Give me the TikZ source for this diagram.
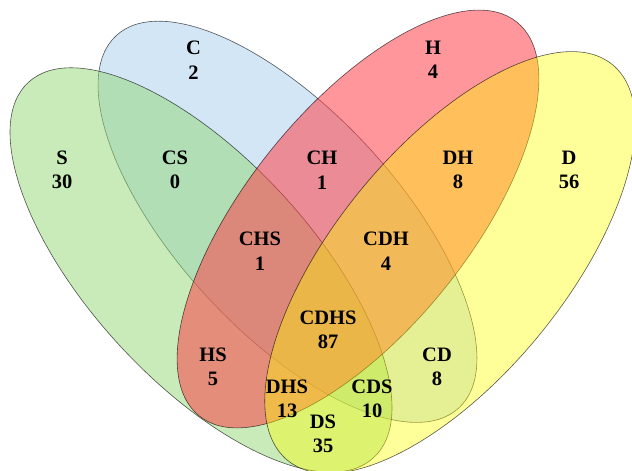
\documentclass[tikz,border=0pt]{standalone}
\usepackage{fontspec}
\setmainfont{Liberation Serif}
\definecolor{setC}{RGB}{165,205,235}
\definecolor{setS}{RGB}{145,215,115}
\definecolor{setH}{RGB}{255,64,73}
\definecolor{setD}{RGB}{255,255,0}
\tikzset{
  setshape/.style={draw=black, draw opacity=0.65, line width=0.6pt},
  lbl/.style={font=\bfseries\fontsize{20.5}{24.5}\selectfont, align=center, inner sep=0pt, text=black}
}
\begin{document}
\begin{tikzpicture}[x=1pt,y=1pt]
\useasboundingbox (0,0) rectangle (632,471);
% C (blue)
\filldraw[setshape, fill=setC, fill opacity=0.5, rotate around={-47.4:(287.5,249.2)}] (287.5,249.2) ellipse (253pt and 110pt);
% S (green)
\filldraw[setshape, fill=setS, fill opacity=0.5, rotate around={-47.4:(201,201)}] (201,201) ellipse (255pt and 111pt);
% H (red)
\filldraw[setshape, fill=setH, fill opacity=0.55, rotate around={51.1:(358,252)}] (358,252) ellipse (253pt and 111pt);
% D (yellow)
\filldraw[setshape, fill=setD, fill opacity=0.4, rotate around={50.6:(450,208.5)}] (450,208.5) ellipse (256pt and 115pt);
% labels (image y -> 471 - y)
\node[lbl] (lC)    at (193.5,411) {C\\2};
\node[lbl] (lS)    at (62,301)    {S\\30};
\node[lbl] (lCS)   at (175,301)   {CS\\0};
\node[lbl] (lH)    at (433,411)   {H\\4};
\node[lbl] (lCH)   at (322,301)   {CH\\1};
\node[lbl] (lDH)   at (458,301)   {DH\\8};
\node[lbl] (lD)    at (569,301)   {D\\56};
\node[lbl] (lCHS)  at (260,220)   {CHS\\1};
\node[lbl] (lCDH)  at (386,220)   {CDH\\4};
\node[lbl] (lCDHS) at (328,141)   {CDHS\\87};
\node[lbl] (lHS)   at (213,104)   {HS\\5};
\node[lbl] (lCD)   at (437,104)   {CD\\8};
\node[lbl] (lDHS)  at (287,72)    {DHS\\13};
\node[lbl] (lCDS)  at (372,72)    {CDS\\10};
\node[lbl] (lDS)   at (323,37)    {DS\\35};
\end{tikzpicture}
\end{document}
